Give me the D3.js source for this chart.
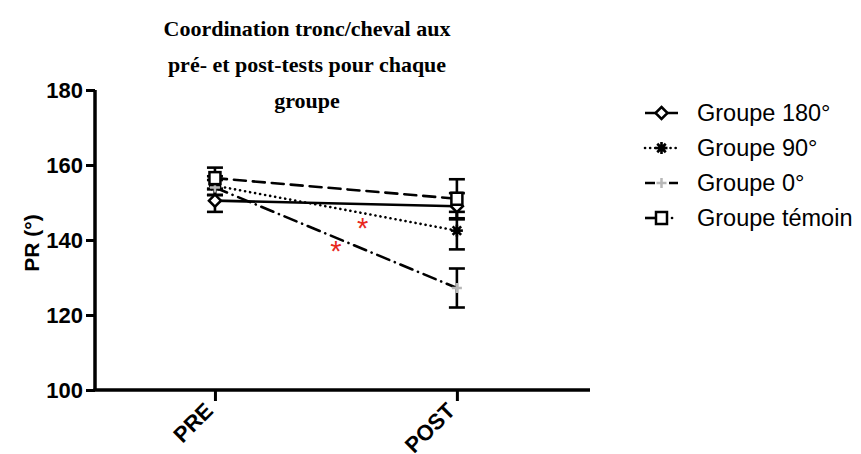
<!DOCTYPE html>
<html>
<head>
<meta charset="utf-8">
<script src="https://cdn.jsdelivr.net/npm/d3@7/dist/d3.min.js"></script>
<style>
  html, body { margin: 0; padding: 0; background: #fff; }
  svg { display: block; }
</style>
</head>
<body>
<svg id="chart" width="861" height="454"></svg>
<script>
// Test phases on the x axis
const phases = ["PRE", "POST"];

// Group names (legend order)
const groups = ["Groupe 180°", "Groupe 90°", "Groupe 0°", "Groupe témoin"];

// Mean PR (°) per group at PRE and POST
const means180 = [150.5, 149.0];
const means90 = [154.5, 142.5];
const means0 = [154.0, 127.2];
const meansTemoin = [156.5, 151.0];

// Standard error per group at PRE and POST
const sem180 = [3.0, 3.5];
const sem90 = [2.5, 5.0];
const sem0 = [2.0, 5.2];
const semTemoin = [2.8, 5.2];

// Y axis ticks
const yTicks = [100, 120, 140, 160, 180];

// Significance markers: position between PRE (0) and POST (1), and PR value
const starPos = [0.61, 0.50];
const starVal = [144.3, 138.2];

const titleLines = ["Coordination tronc/cheval aux", "pré- et post-tests pour chaque", "groupe"];

const series = [
  { name: groups[0], means: means180, sem: sem180, dash: null, marker: "diamond" },
  { name: groups[1], means: means90, sem: sem90, dash: "0.1 5", marker: "star" },
  { name: groups[2], means: means0, sem: sem0, dash: "13 6 0.1 6", marker: "plus" },
  { name: groups[3], means: meansTemoin, sem: semTemoin, dash: "12 7", marker: "square" }
];

const svg = d3.select("#chart");

const x = d3.scalePoint().domain(phases).range([95, 590]).padding(0.523).align(0.474);
const y = d3.scaleLinear().domain([100, 180]).range([390, 90]);
// Continuous position between phases for annotations
const xt = d3.scaleLinear().domain([0, 1]).range([x("PRE"), x("POST")]);

// Title
svg.append("g").selectAll("text").data(titleLines).join("text")
  .attr("x", 307).attr("y", (d, i) => 36 + i * 36)
  .attr("text-anchor", "middle")
  .style("font-family", "'Liberation Serif', 'Times New Roman', serif")
  .style("font-weight", "bold").style("font-size", "22px")
  .text(d => d);

// Y axis
const yAxis = svg.append("g").attr("transform", "translate(95,0)")
  .call(d3.axisLeft(y).tickValues(yTicks).tickSize(9).tickPadding(3).tickFormat(d3.format("d")));
yAxis.select(".domain").attr("d", `M0,${y(180)}V${y(100)}`).attr("stroke", "#000").attr("stroke-width", 3.5);
yAxis.selectAll(".tick line").attr("stroke", "#000").attr("stroke-width", 3);
yAxis.selectAll(".tick text")
  .style("font-family", "'Liberation Sans', Arial, sans-serif")
  .style("font-weight", "bold").style("font-size", "22px").attr("fill", "#000");

// X axis
const xAxis = svg.append("g").attr("transform", "translate(0,390)")
  .call(d3.axisBottom(x).tickSize(11).tickPadding(0));
xAxis.select(".domain").attr("d", "M93.5,0H590").attr("stroke", "#000").attr("stroke-width", 3.5);
xAxis.selectAll(".tick line").attr("stroke", "#000").attr("stroke-width", 3);
xAxis.selectAll(".tick text")
  .style("font-family", "'Liberation Sans', Arial, sans-serif")
  .style("font-weight", "bold").style("font-size", "22px").attr("fill", "#000")
  .attr("text-anchor", "end").attr("dy", null).attr("y", 0)
  .attr("transform", "translate(-1,22) rotate(-45)");

// Y axis title
svg.append("text")
  .attr("transform", `translate(39,${y(140) + 3}) rotate(-90)`)
  .attr("text-anchor", "middle")
  .style("font-family", "'Liberation Sans', Arial, sans-serif")
  .style("font-weight", "bold").style("font-size", "21px")
  .text("PR (°)");

// Marker drawing
function drawMarker(g, type) {
  if (type === "diamond") {
    g.append("path").attr("d", "M0,-6L6,0L0,6L-6,0Z")
      .attr("fill", "#fff").attr("stroke", "#000").attr("stroke-width", 2.5);
  } else if (type === "square") {
    g.append("rect").attr("x", -5.5).attr("y", -6).attr("width", 11).attr("height", 12)
      .attr("fill", "#fff").attr("stroke", "#000").attr("stroke-width", 2.5);
  } else if (type === "star") {
    for (let a = 0; a < 180; a += 45) {
      g.append("line").attr("x1", 0).attr("y1", -6).attr("x2", 0).attr("y2", 6)
        .attr("transform", `rotate(${a})`).attr("stroke", "#000").attr("stroke-width", 2.6);
    }
    g.append("circle").attr("r", 3.5).attr("fill", "#000");
  } else if (type === "plus") {
    g.append("path").attr("d", "M-5,0H5M0,-5V5")
      .attr("stroke", "#b8b8b8").attr("stroke-width", 2.5);
  }
}

const line = d3.line().x((d, i) => x(phases[i])).y(d => y(d));
const plot = svg.append("g");

// Lines
series.forEach(s => {
  plot.append("path").datum(s.means).attr("d", line)
    .attr("fill", "none").attr("stroke", "#000").attr("stroke-width", 2.6)
    .attr("stroke-linecap", s.dash ? "round" : "butt")
    .attr("stroke-dasharray", s.dash);
});

// Error bars
series.forEach(s => {
  s.means.forEach((m, i) => {
    const cx = x(phases[i]);
    const g = plot.append("g").attr("stroke", "#000").attr("stroke-width", 2.6);
    g.append("line").attr("x1", cx).attr("x2", cx).attr("y1", y(m - s.sem[i])).attr("y2", y(m + s.sem[i]));
    [m - s.sem[i], m + s.sem[i]].forEach(v => {
      g.append("line").attr("x1", cx - 8).attr("x2", cx + 8).attr("y1", y(v)).attr("y2", y(v));
    });
  });
});

// Markers
series.forEach(s => {
  s.means.forEach((m, i) => {
    const g = plot.append("g").attr("transform", `translate(${x(phases[i])},${y(m)})`);
    drawMarker(g, s.marker);
  });
});

// Significance asterisks
svg.append("g").selectAll("text").data(starPos).join("text")
  .attr("x", (d) => xt(d))
  .attr("y", (d, i) => y(starVal[i]) + 14)
  .attr("text-anchor", "middle")
  .style("font-family", "'Liberation Sans', Arial, sans-serif")
  .style("font-size", "29px").attr("fill", "#e8281e")
  .text("*");

// Legend
const legend = svg.append("g").attr("transform", "translate(645,0)");
const legendDash = [null, "0.1 5", "10 5", "10 6 0.1 6"];
series.forEach((s, i) => {
  const ly = 113 + i * 35;
  const g = legend.append("g").attr("transform", `translate(0,${ly})`);
  if (i === 2) {
    g.append("path").attr("d", "M0,0H10M24,0H33").attr("stroke", "#000").attr("stroke-width", 2.6);
  } else if (i === 3) {
    g.append("path").attr("d", "M0,0H10").attr("stroke", "#000").attr("stroke-width", 2.6);
    g.append("path").attr("d", "M24,0H33").attr("stroke", "#000").attr("stroke-width", 2.6)
      .attr("stroke-dasharray", "0.1 6").attr("stroke-linecap", "round").attr("stroke-dashoffset", -3);
  } else {
    g.append("path").attr("d", "M0,0H33").attr("stroke", "#000").attr("stroke-width", 2.6)
      .attr("stroke-linecap", i === 1 ? "round" : "butt")
      .attr("stroke-dasharray", legendDash[i]);
  }
  drawMarker(g.append("g").attr("transform", "translate(16.5,0)"), s.marker);
  g.append("text").attr("x", 52).attr("y", 0).attr("dy", "0.36em")
    .style("font-family", "'Liberation Sans', Arial, sans-serif")
    .style("font-size", "23.5px").attr("fill", "#000")
    .text(s.name);
});
</script>
</body>
</html>
